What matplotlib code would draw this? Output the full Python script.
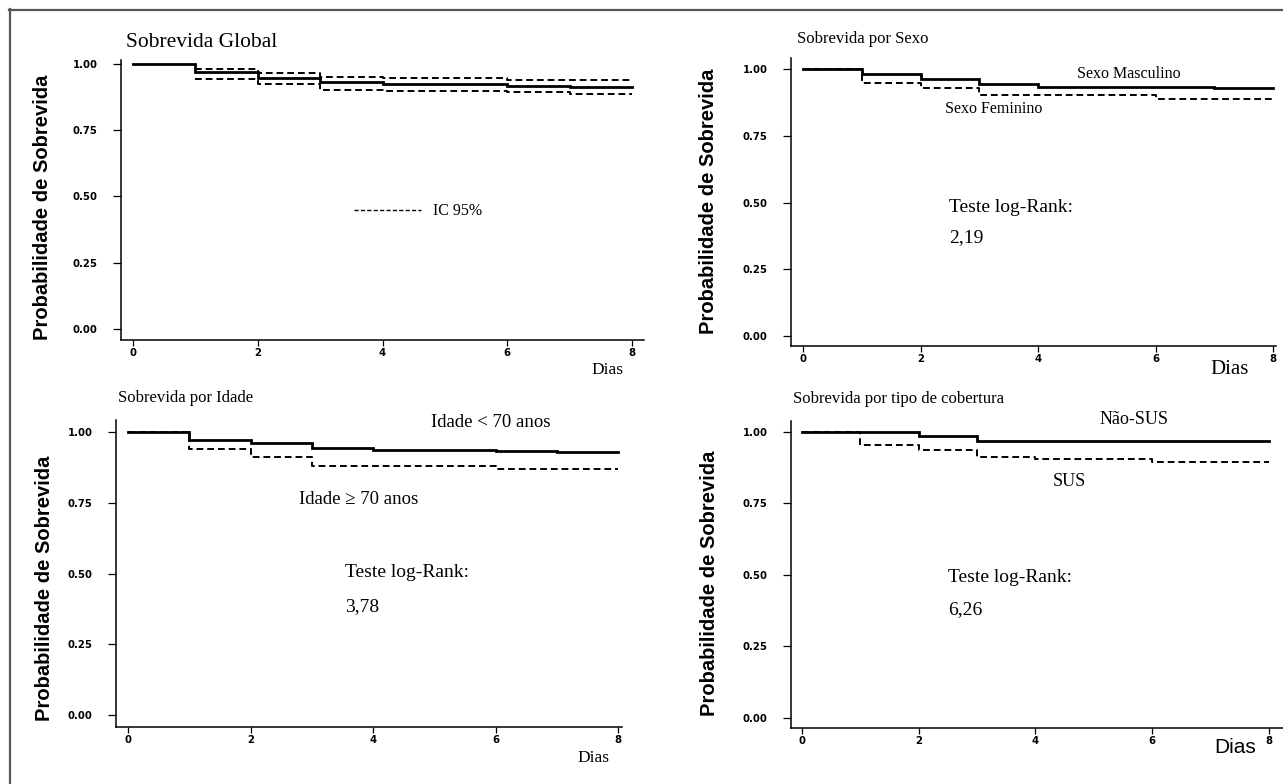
import matplotlib
matplotlib.use("Agg")
import matplotlib.pyplot as plt
from matplotlib.lines import Line2D

# ---------------- data ----------------
global_t = [0, 1, 2, 3, 4, 6, 7, 8]
global_s = [1.00, 0.968, 0.948, 0.931, 0.924, 0.918, 0.914, 0.914]
ci_t = [1, 2, 3, 4, 6, 7, 8]
ci_upper = [0.980, 0.967, 0.951, 0.946, 0.939, 0.939, 0.939]
ci_lower = [0.943, 0.923, 0.902, 0.897, 0.893, 0.885, 0.885]

male_t = [0, 1, 2, 3, 4, 7, 8]
male_s = [1.00, 0.981, 0.962, 0.942, 0.934, 0.927, 0.927]
female_t = [0, 1, 2, 3, 6, 8]
female_s = [1.00, 0.949, 0.928, 0.903, 0.888, 0.888]

young_t = [0, 1, 2, 3, 4, 6, 7, 8]
young_s = [1.00, 0.973, 0.960, 0.942, 0.936, 0.933, 0.928, 0.928]
old_t = [0, 1, 2, 3, 6, 8]
old_s = [1.00, 0.941, 0.910, 0.879, 0.870, 0.870]

nsus_t = [0, 2, 3, 8]
nsus_s = [1.00, 0.985, 0.968, 0.968]
sus_t = [0, 1, 2, 3, 4, 6, 8]
sus_s = [1.00, 0.955, 0.936, 0.913, 0.906, 0.896, 0.896]

x_ticks = [0, 2, 4, 6, 8]
y_ticks = [0.00, 0.25, 0.50, 0.75, 1.00]
y_tick_labels = ["0.00", "0.25", "0.50", "0.75", "1.00"]

titles = ["Sobrevida Global", "Sobrevida por Sexo", "Sobrevida por Idade",
          "Sobrevida por tipo de cobertura"]
ylabel = "Probabilidade de Sobrevida"
xlabel = "Dias"
logrank = ["2,19", "3,78", "6,26"]

# ---------------- figure ----------------
W, H = 1283, 784
fig = plt.figure(figsize=(W / 100, H / 100), dpi=100)

SERIF = ["Liberation Serif", "DejaVu Serif"]
SANS = ["Liberation Sans", "DejaVu Sans"]


def px_axes(l, r, t, b):
    return fig.add_axes([l / W, 1 - b / H, (r - l) / W, (b - t) / H])


def style(ax, xlim, ylim, title, tx, ty, tsize, ylx, yly, dx, dy, dfont, dsize, dweight="normal"):
    ax.set_xlim(*xlim)
    ax.set_ylim(*ylim)
    for s in ("top", "right"):
        ax.spines[s].set_visible(False)
    for s in ("left", "bottom"):
        ax.spines[s].set_linewidth(1.1)
    ax.set_xticks(x_ticks)
    ax.set_xticklabels([str(v) for v in x_ticks])
    ax.set_yticks(y_ticks)
    ax.set_yticklabels(y_tick_labels)
    ax.tick_params(axis="y", length=6, width=0.9, pad=11)
    ax.tick_params(axis="x", length=4, width=0.9, pad=2)
    for lab in ax.get_xticklabels() + ax.get_yticklabels():
        lab.set_fontfamily(["DejaVu Sans"])
        lab.set_fontsize(7.3)
        lab.set_fontweight("bold")
    ax.text(tx, ty, title, transform=ax.transAxes, fontsize=tsize,
            family=SERIF, ha="left", va="center")
    ax.set_ylabel(ylabel, family=SANS, fontsize=14.5, fontweight="bold", va="center")
    ax.yaxis.set_label_coords(ylx, yly)
    ax.set_xlabel(xlabel, family=dfont, fontsize=dsize, fontweight=dweight,
                  ha="right", va="center")
    ax.xaxis.set_label_coords(dx, dy)


SOLID = dict(color="black", lw=2.0, where="post", solid_joinstyle="miter")
DASH = dict(color="black", lw=1.4, where="post", linestyle=(0, (3.5, 2)))

# Panel 1: global
ax1 = px_axes(121, 644, 60, 340)
ax1.step(global_t, global_s, **SOLID)
ax1.step(ci_t, ci_upper, **DASH)
ax1.step(ci_t, ci_lower, **DASH)
style(ax1, (-0.192, 8.19), (-0.0415, 1.015), titles[0], 0.01, 1.064, 15.5,
      -0.151, 0.475, 0.96, -0.107, SERIF, 12.5)
ax1.legend(handles=[Line2D([], [], color="black", lw=1.0, linestyle=(0, (3, 1.6)))],
           labels=["IC 95%"], loc="center left", bbox_to_anchor=(0.418, 0.46),
           frameon=False, handlelength=4.2, handletextpad=0.75,
           prop=dict(family=SERIF, size=11.5))

# Panel 2: sexo
ax2 = px_axes(791, 1276, 58, 346)
ax2.step(male_t, male_s, **SOLID)
ax2.step(female_t, female_s, **DASH)
style(ax2, (-0.204, 8.05), (-0.037, 1.041), titles[1], 0.012, 1.066, 12,
      -0.171, 0.503, 0.944, -0.083, SERIF, 15)
ax2.text(4.67, 0.981, "Sexo Masculino", family=SERIF, fontsize=11.5, ha="left", va="center")
ax2.text(2.41, 0.850, "Sexo Feminino", family=SERIF, fontsize=11.5, ha="left", va="center")
ax2.text(2.48, 0.483, "Teste log-Rank:", family=SERIF, fontsize=14, ha="left", va="center")
ax2.text(2.48, 0.367, logrank[0], family=SERIF, fontsize=14, ha="left", va="center")

# Panel 3: idade
ax3 = px_axes(116, 622, 420, 727)
ax3.step(young_t, young_s, **SOLID)
ax3.step(old_t, old_s, **DASH)
style(ax3, (-0.196, 8.065), (-0.042, 1.042), titles[2], 0.004, 1.072, 12,
      -0.141, 0.453, 0.976, -0.101, SERIF, 12.5)
ax3.text(4.95, 1.032, "Idade < 70 anos", family=SERIF, fontsize=13.5, ha="left", va="center")
ax3.text(2.79, 0.760, "Idade \u2265 70 anos", family=SERIF, fontsize=13.5, ha="left", va="center")
ax3.text(3.54, 0.502, "Teste log-Rank:", family=SERIF, fontsize=14, ha="left", va="center")
ax3.text(3.54, 0.382, logrank[1], family=SERIF, fontsize=14, ha="left", va="center")

# Panel 4: cobertura
ax4 = px_axes(791, 1283, 421, 728)
ax4.step(nsus_t, nsus_s, **SOLID)
ax4.step(sus_t, sus_s, **DASH)
style(ax4, (-0.188, 8.24), (-0.035, 1.038), titles[3], 0.004, 1.072, 12,
      -0.165, 0.472, 0.945, -0.065, SANS, 15)
ax4.text(5.09, 1.042, "N\u00e3o-SUS", family=SERIF, fontsize=13, ha="left", va="center")
ax4.text(4.30, 0.825, "SUS", family=SERIF, fontsize=13, ha="left", va="center")
ax4.text(2.50, 0.490, "Teste log-Rank:", family=SERIF, fontsize=14, ha="left", va="center")
ax4.text(2.50, 0.378, logrank[2], family=SERIF, fontsize=14, ha="left", va="center")

# frame lines (top and left)
fig.add_artist(Line2D([9 / W, 1], [1 - 9.5 / H, 1 - 9.5 / H], transform=fig.transFigure,
                      color="#555555", lw=1.6))
fig.add_artist(Line2D([9.5 / W, 9.5 / W], [0, 1 - 9 / H], transform=fig.transFigure,
                      color="#555555", lw=1.6))

fig.savefig("out.png", dpi=100, facecolor="white")
